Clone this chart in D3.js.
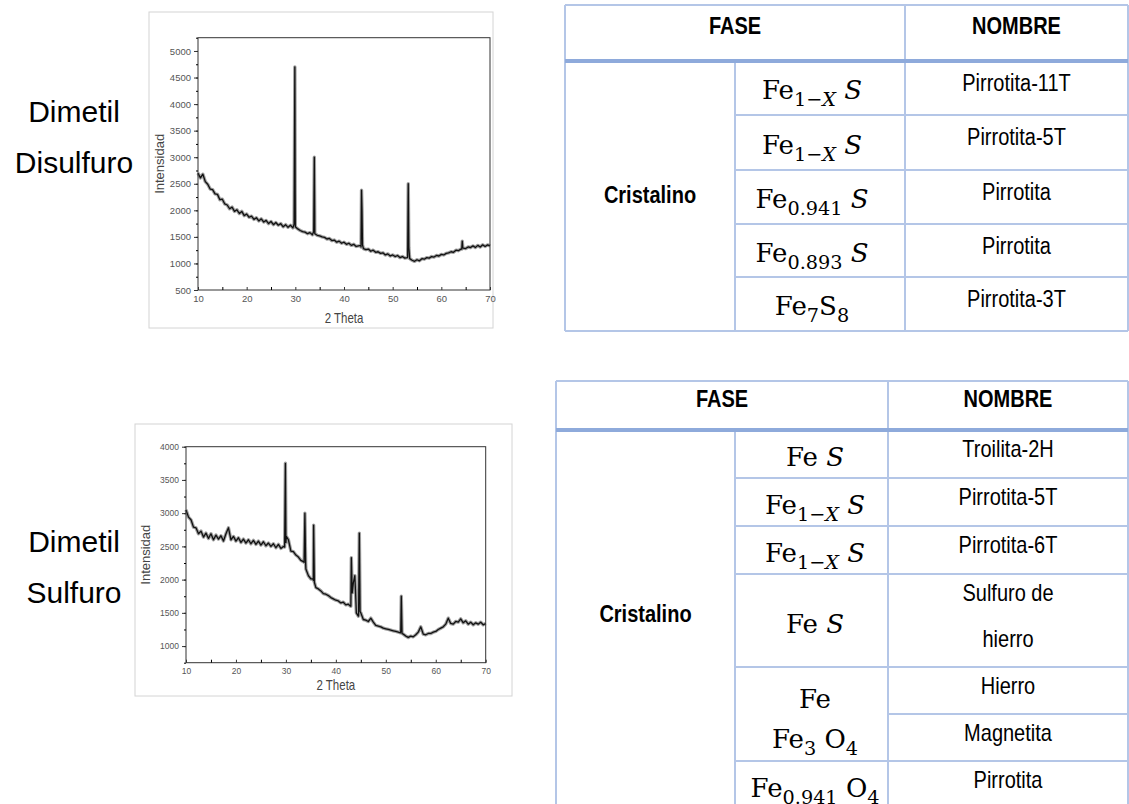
<!DOCTYPE html>
<html>
<head>
<meta charset="utf-8">
<script src="https://cdn.jsdelivr.net/npm/d3@7"></script>
<style>
  body { margin: 0; background: #fff; }
  svg { display: block; }
  text { white-space: pre; }
</style>
</head>
<body>
<svg id="fig" width="1129" height="804"></svg>
<script>
// ---- values (2 Theta on a 0.5 deg grid) ----
const theta = d3.range(10, 70.001, 0.5);

const dmdsBase = [
  2700, 2610, 2680, 2540, 2490, 2400, 2390, 2310, 2300, 2200,
  2210, 2120, 2100, 2030, 2060, 1980, 2010, 1940, 1980, 1900,
  1930, 1870, 1890, 1830, 1860, 1800, 1840, 1780, 1810, 1750,
  1790, 1730, 1770, 1720, 1750, 1690, 1730, 1680, 1720, 1670,
  1690, 1650, 1620, 1600, 1590, 1560, 1580, 1540, 1560, 1530,
  1520, 1500, 1490, 1460, 1470, 1430, 1440, 1400, 1420, 1380,
  1400, 1360, 1380, 1340, 1360, 1320, 1330, 1310, 1280, 1260,
  1270, 1230, 1250, 1210, 1220, 1190, 1200, 1160, 1180, 1140,
  1160, 1130, 1150, 1110, 1130, 1100, 1110, 1090, 1060, 1040,
  1070, 1050, 1090, 1080, 1110, 1100, 1130, 1120, 1150, 1140,
  1170, 1160, 1190, 1200, 1220, 1210, 1250, 1240, 1270, 1290,
  1280, 1310, 1300, 1330, 1300, 1340, 1310, 1350, 1320, 1350,
  1330
];
const dmdsPeakTheta = [29.75, 29.9, 29.97, 33.78, 33.9, 33.98, 43.48, 43.6, 43.7, 43.8, 53.08, 53.2, 53.32, 64.2, 64.3, 64.4];
const dmdsPeakInt   = [1740, 4700, 2300, 1600, 3000, 1900, 1340, 2380, 2000, 1350, 1120, 2500, 1300, 1270, 1420, 1300];

const dmsBase = [
  3050, 2940, 2900, 2790, 2780, 2690, 2730, 2640, 2700, 2620,
  2690, 2600, 2670, 2610, 2660, 2580, 2690, 2780, 2600, 2650,
  2580, 2630, 2560, 2610, 2550, 2600, 2540, 2590, 2530, 2580,
  2520, 2570, 2510, 2550, 2500, 2540, 2480, 2530, 2470, 2500,
  2560, 2600, 2430, 2420, 2370, 2340, 2290, 2270, 2160, 2060,
  2010, 1990, 1880, 1860, 1830, 1790, 1780, 1760, 1730, 1710,
  1690, 1680, 1650, 1660, 1620, 1630, 1600, 1950, 1700, 1450,
  1500, 1400, 1390, 1370, 1420, 1360, 1310, 1300, 1290, 1270,
  1260, 1250, 1240, 1230, 1220, 1210, 1230, 1180, 1150, 1130,
  1150, 1140, 1170, 1210, 1290, 1180, 1170, 1190, 1190, 1210,
  1220, 1250, 1270, 1290, 1330, 1420, 1340, 1330, 1370, 1360,
  1410, 1350, 1380, 1330, 1360, 1320, 1350, 1330, 1360, 1320,
  1340
];
const dmsPeakTheta = [29.75, 29.9, 30.08, 33.65, 33.8, 33.95, 35.42, 35.55, 35.7, 42.95, 43.1, 43.28, 43.8, 44.1, 44.55, 44.7, 44.85, 52.95, 53.1, 53.25];
const dmsPeakInt   = [2490, 3750, 2650, 2260, 3000, 2250, 2010, 2820, 1960, 1600, 2330, 1800, 2060, 1500, 1460, 2700, 1520, 1200, 1750, 1190];

const thetaTicks = [10, 20, 30, 40, 50, 60, 70];
const dmdsTicks = [500, 1000, 1500, 2000, 2500, 3000, 3500, 4000, 4500, 5000];
const dmsTicks = [1000, 1500, 2000, 2500, 3000, 3500, 4000];

const sample1 = ["Dimetil", "Disulfuro"];
const sample2 = ["Dimetil", "Sulfuro"];

// ---- phase tables ----  _{..} subscript, *..* italic
const headers = ["FASE", "NOMBRE"];
const phaseKind = "Cristalino";
const phases1 = ["Fe_{1−*X*} *S*", "Fe_{1−*X*} *S*", "Fe_{0.941} *S*", "Fe_{0.893} *S*", "Fe_{7}S_{8}"];
const names1 = ["Pirrotita-11T", "Pirrotita-5T", "Pirrotita", "Pirrotita", "Pirrotita-3T"];
const phases2 = [["Fe *S*"], ["Fe_{1−*X*} *S*"], ["Fe_{1−*X*} *S*"], ["Fe *S*"], ["Fe", "Fe_{3} O_{4}"], ["Fe_{0.941} O_{4}"]];
const names2 = [["Troilita-2H"], ["Pirrotita-5T"], ["Pirrotita-6T"], ["Sulfuro de", "hierro"], ["Hierro"], ["Magnetita"], ["Pirrotita"]];

const svg = d3.select("#fig");
const sans = "'Liberation Sans', Arial, sans-serif";
const serif = "'DejaVu Serif', 'Liberation Serif', serif";

// text that is a bit taller than wide, like the pasted picture
function tallText(parent, x, y, k) {
  return parent.append("g").attr("transform", `translate(${x},${y}) scale(1,${k})`)
    .append("text").attr("x", 0).attr("y", 0);
}

function xrdChart(o) {
  const g = svg.append("g");
  g.append("rect")
    .attr("x", o.frame[0]).attr("y", o.frame[1])
    .attr("width", o.frame[2]).attr("height", o.frame[3])
    .attr("fill", "#fff").attr("stroke", "#d4d4d4");

  const x = d3.scaleLinear().domain([10, 70]).range([o.l, o.r]);
  const y = d3.scaleLinear().domain(o.yDomain).range([o.b, o.t]);

  const pts = theta.map((t, i) => [t, o.base[i]])
    .concat(o.peakTheta.map((t, i) => [t, o.peakInt[i]]))
    .sort((a, b) => a[0] - b[0]);

  // grey halo stands in for the scan noise, black trace on top
  const line = d3.line().x(d => x(d[0])).y(d => y(d[1]));
  g.append("path").datum(pts)
    .attr("fill", "none").attr("stroke", "#777").attr("stroke-opacity", 0.7)
    .attr("stroke-width", 3.4).attr("stroke-linejoin", "round")
    .attr("d", line);
  g.append("path").datum(pts)
    .attr("fill", "none").attr("stroke", "#111")
    .attr("stroke-width", 1.3).attr("stroke-linejoin", "round")
    .attr("d", line);

  g.append("rect")
    .attr("x", o.l).attr("y", o.t)
    .attr("width", o.r - o.l).attr("height", o.b - o.t)
    .attr("fill", "none").attr("stroke", "#333").attr("stroke-width", 1);

  // y axis: major + minor ticks pointing out
  const yMinor = d3.range(o.yDomain[0], o.yDomain[1] + 1, 250);
  g.append("g").attr("transform", `translate(${o.l},0)`)
    .call(d3.axisLeft(y).tickValues(yMinor).tickSize(2).tickFormat(""))
    .call(a => a.select(".domain").remove());
  g.append("g").attr("transform", `translate(${o.l},0)`)
    .call(d3.axisLeft(y).tickValues(o.yTicks).tickSize(4).tickPadding(3).tickFormat(d3.format("d")))
    .call(a => a.select(".domain").remove())
    .call(a => a.selectAll("line").attr("stroke", "#333"))
    .call(a => a.selectAll("text").attr("font-family", sans).attr("font-size", o.tickFont).attr("fill", "#555"));

  // x axis: ticks pointing in
  g.append("g").attr("transform", `translate(0,${o.b})`)
    .call(d3.axisBottom(x).tickValues(d3.range(15, 70, 10)).tickSize(-3).tickFormat(""))
    .call(a => a.select(".domain").remove());
  g.append("g").attr("transform", `translate(0,${o.b})`)
    .call(d3.axisBottom(x).tickValues(thetaTicks).tickSize(-3).tickPadding(5))
    .call(a => a.select(".domain").remove())
    .call(a => a.selectAll("line").attr("stroke", "#333"))
    .call(a => a.selectAll("text").attr("font-family", sans).attr("font-size", o.tickFont).attr("fill", "#555"));

  tallText(g, (o.l + o.r) / 2, o.xTitleY, 1.25).text("2 Theta")
    .attr("text-anchor", "middle").attr("font-family", sans)
    .attr("font-size", 11.5).attr("fill", "#444");
  g.append("text").text("Intensidad")
    .attr("transform", `translate(${o.yTitleX},${(o.t + o.b) / 2}) rotate(-90)`)
    .attr("text-anchor", "middle").attr("font-family", sans)
    .attr("font-size", 13).attr("fill", "#444");

  g.append("text")
    .attr("text-anchor", "middle").attr("font-family", sans)
    .attr("font-size", 30).attr("fill", "#000")
    .selectAll("tspan").data(o.label).join("tspan")
    .attr("x", 74).attr("y", (d, i) => o.labelY + i * 51)
    .text(d => d);
}

xrdChart({
  frame: [149, 12, 344, 316], l: 198, r: 490, t: 37.7, b: 290,
  yDomain: [500, 5250], yTicks: dmdsTicks,
  base: dmdsBase, peakTheta: dmdsPeakTheta, peakInt: dmdsPeakInt,
  tickFont: 9.5, xTitleY: 323, yTitleX: 164, label: sample1, labelY: 122
});
xrdChart({
  frame: [135, 424, 377, 272], l: 186, r: 485.7, t: 446.7, b: 662.7,
  yDomain: [750, 4000], yTicks: dmsTicks,
  base: dmsBase, peakTheta: dmsPeakTheta, peakInt: dmsPeakInt,
  tickFont: 8.5, xTitleY: 690, yTitleX: 150, label: sample2, labelY: 552
});

// ---- formula text: subscripts and italics as tspans ----
function addFormula(t, src, lineY) {
  let sub = false, it = false, buf = "", cur = 0, first = true;
  const flush = () => {
    if (!buf) return;
    const target = sub ? 7 : 0;
    const ts = t.append("tspan").text(buf)
      .attr("font-style", it ? "italic" : "normal")
      .attr("font-size", sub ? "0.74em" : "1em");
    if (first) { ts.attr("x", t.attr("x")).attr("dy", lineY + target); first = false; }
    else if (target !== cur) ts.attr("dy", target - cur);
    cur = target;
    buf = "";
  };
  for (let i = 0; i < src.length; i++) {
    const c = src[i];
    if (c === "_" && src[i + 1] === "{") { flush(); sub = true; i++; }
    else if (c === "}" && sub) { flush(); sub = false; }
    else if (c === "*") { flush(); it = !it; }
    else buf += c;
  }
  flush();
}

function drawTable(tb) {
  const g = svg.append("g");
  const [x0, x1, x2, x3] = tb.cols;
  const line = (xa, ya, xb, yb, w, c) => g.append("line")
    .attr("x1", xa).attr("y1", ya).attr("x2", xb).attr("y2", yb)
    .attr("stroke", c || "#b4c6e7").attr("stroke-width", w || 2);

  line(x0, tb.top, x3, tb.top);
  line(x0, tb.top, x0, tb.bottom);
  line(x3, tb.top, x3, tb.bottom);
  line(x2, tb.top, x2, tb.bottom);
  line(x1, tb.head, x1, tb.bottom);
  tb.nameRows.slice(1).forEach(yy => line(x2, yy, x3, yy));
  tb.phaseRows.slice(1).forEach(yy => line(x1, yy, x2, yy));
  line(x0, tb.bottom, x3, tb.bottom);
  line(x0, tb.head, x3, tb.head, 4, "#8eaadb");

  headers.forEach((h, i) => {
    tallText(g, i ? (x2 + x3) / 2 : (x0 + x2) / 2, tb.top + tb.headBase, tb.k)
      .attr("text-anchor", "middle").attr("font-family", sans)
      .attr("font-weight", "bold").attr("font-size", 20).text(h);
  });

  tallText(g, (x0 + x1) / 2, tb.kindY, tb.k).text(phaseKind)
    .attr("text-anchor", "middle").attr("font-family", sans)
    .attr("font-weight", "bold").attr("font-size", 20);

  tb.names.forEach((lines, i) => {
    [].concat(lines).forEach((s, j) => {
      tallText(g, (x2 + x3) / 2, tb.nameRows[i] + tb.nameBase + j * 46, tb.k)
        .attr("text-anchor", "middle").attr("font-family", sans)
        .attr("font-size", 20).text(s);
    });
  });

  // phases, clipped to their cells
  const defs = svg.append("defs");
  tb.phases.forEach((lines, i) => {
    const yTop = tb.phaseRows[i];
    const yBot = i + 1 < tb.phaseRows.length ? tb.phaseRows[i + 1] : tb.bottom;
    const id = `clip-${tb.id}-${i}`;
    defs.append("clipPath").attr("id", id).append("rect")
      .attr("x", x1 + 1).attr("y", yTop).attr("width", x2 - x1 - 2).attr("height", yBot - yTop);
    const arr = [].concat(lines);
    const cg = g.append("g").attr("clip-path", `url(#${id})`);
    arr.forEach((s, j) => {
      const t = cg.append("text").attr("x", tb.phaseX).attr("y", 0)
        .attr("text-anchor", "middle").attr("font-family", serif).attr("font-size", 26);
      const base = arr.length > 1 ? yTop + tb.phaseMultiBase + j * 40
                                  : (yTop + yBot) / 2 + tb.phaseMid;
      addFormula(t, s, base);
    });
  });
}

drawTable({
  id: "t1", cols: [565, 735, 905, 1128], top: 5, head: 61, bottom: 331, k: 1.15,
  headBase: 29, kindY: 203,
  nameRows: [61, 115, 170, 224, 277], nameBase: 30,
  phaseRows: [61, 115, 170, 224, 277], phaseMid: 11, phaseX: 812,
  phases: phases1, names: names1
});
drawTable({
  id: "t2", cols: [556, 735, 888, 1128], top: 381, head: 430, bottom: 808, k: 1.18,
  headBase: 26, kindY: 622,
  nameRows: [430, 478, 526, 574, 667, 714, 761], nameBase: 27,
  phaseRows: [430, 478, 526, 574, 667, 761], phaseMid: 12, phaseMultiBase: 41, phaseX: 815,
  phases: phases2, names: names2
});
</script>
</body>
</html>
